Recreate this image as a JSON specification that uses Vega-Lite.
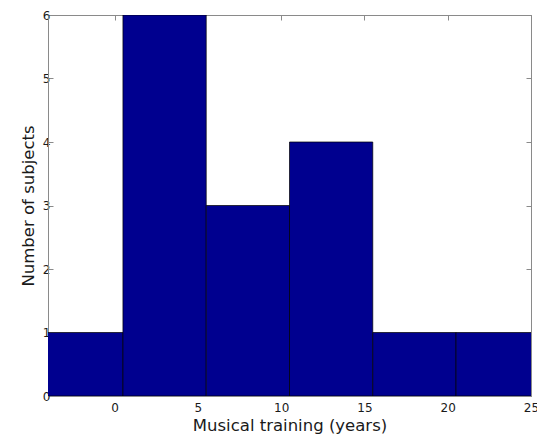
{
  "$schema": "https://vega.github.io/schema/vega-lite/v6.json",
  "width": 483,
  "height": 381,
  "autosize": "none",
  "padding": {"left": 48, "top": 15, "right": 6, "bottom": 41},
  "background": "white",
  "config": {
    "font": "DejaVu Sans",
    "view": {"stroke": "#8a8a8a", "strokeWidth": 1},
    "axis": {
      "grid": false,
      "domainColor": "#8a8a8a",
      "tickColor": "#8a8a8a",
      "tickSize": -5,
      "labelColor": "#1a1a1a",
      "labelFont": "DejaVu Sans",
      "labelFontSize": 12,
      "titleColor": "#1a1a1a",
      "titleFont": "DejaVu Sans",
      "titleFontSize": 16.5,
      "titleFontWeight": "normal"
    }
  },
  "data": {
    "values": [
      {"bin_start": -4.5, "bin_end": 0.5, "count": 1},
      {"bin_start": 0.5, "bin_end": 5.5, "count": 6},
      {"bin_start": 5.5, "bin_end": 10.5, "count": 3},
      {"bin_start": 10.5, "bin_end": 15.5, "count": 4},
      {"bin_start": 15.5, "bin_end": 20.5, "count": 1},
      {"bin_start": 20.5, "bin_end": 25.5, "count": 1}
    ]
  },
  "layer": [
    {
      "mark": {"type": "rect", "fill": "#00008f", "stroke": "#000000", "strokeWidth": 0.7, "clip": true},
      "encoding": {
        "x": {
          "field": "bin_start",
          "type": "quantitative",
          "scale": {"domain": [-4, 25], "nice": false, "zero": false},
          "axis": {
            "orient": "bottom",
            "values": [0, 5, 10, 15, 20, 25],
            "labelPadding": 11,
            "labelFlush": false,
            "title": "Musical training (years)",
            "titlePadding": 4
          }
        },
        "x2": {"field": "bin_end"},
        "y": {
          "field": "count",
          "type": "quantitative",
          "scale": {"domain": [0, 6], "nice": false},
          "axis": {
            "orient": "left",
            "values": [0, 1, 2, 3, 4, 5, 6],
            "labelPadding": 3,
            "title": "Number of subjects",
            "titlePadding": 6
          }
        },
        "y2": {"datum": 0}
      }
    },
    {
      "mark": {"type": "rule", "opacity": 0},
      "encoding": {
        "x": {
          "field": "bin_start",
          "type": "quantitative",
          "scale": {"domain": [-4, 25], "nice": false, "zero": false},
          "axis": {"orient": "top", "values": [0, 5, 10, 15, 20, 25], "labels": false, "title": null}
        },
        "y": {
          "field": "count",
          "type": "quantitative",
          "scale": {"domain": [0, 6], "nice": false},
          "axis": {"orient": "right", "values": [0, 1, 2, 3, 4, 5, 6], "labels": false, "title": null}
        }
      }
    }
  ],
  "resolve": {"axis": {"x": "independent", "y": "independent"}}
}
